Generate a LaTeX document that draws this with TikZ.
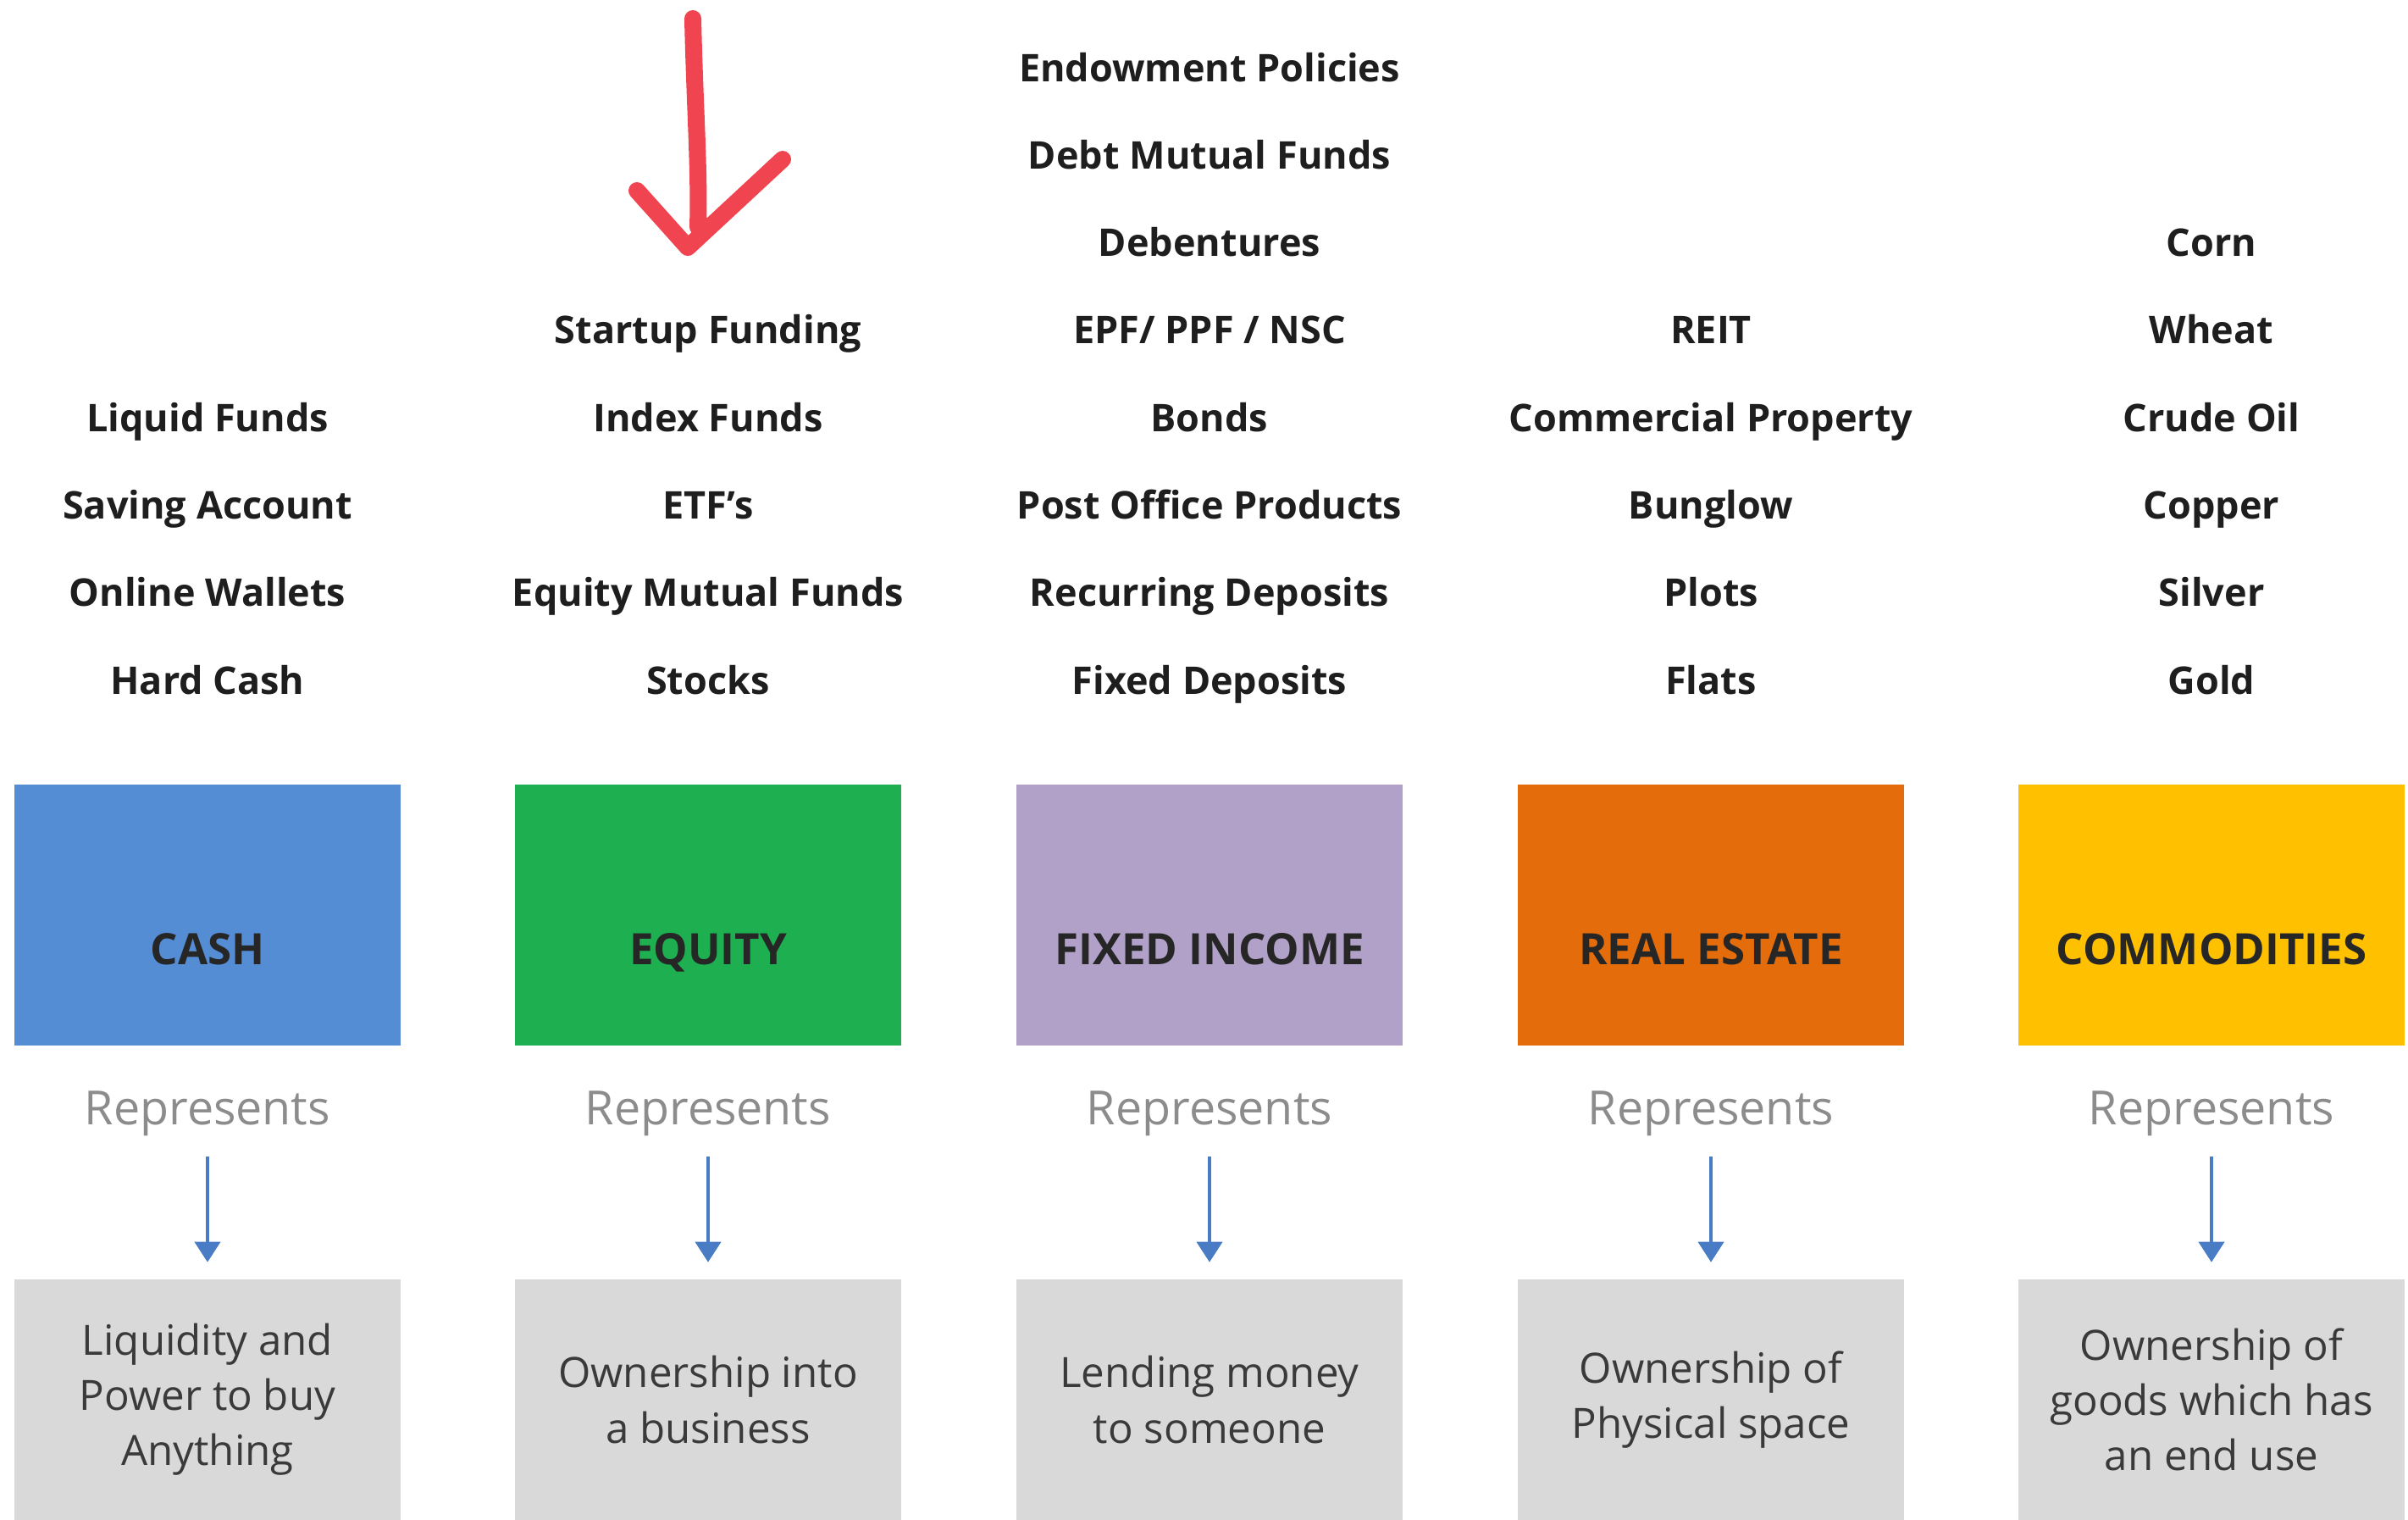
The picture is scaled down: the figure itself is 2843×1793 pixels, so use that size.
\documentclass[tikz,border=0pt]{standalone}
\usepackage{fontspec}
\setmainfont{Open Sans}
\usetikzlibrary{arrows.meta}
\definecolor{cashblue}{HTML}{548DD4}
\definecolor{equitygreen}{HTML}{1DAF50}
\definecolor{fixedlilac}{HTML}{B1A0C7}
\definecolor{estateorange}{HTML}{E46C0A}
\definecolor{commodyellow}{HTML}{FFC000}
\definecolor{descgray}{HTML}{D9D9D9}
\definecolor{reprgray}{HTML}{8C8C8C}
\definecolor{desctext}{HTML}{3A3A3A}
\definecolor{itemtext}{HTML}{1E1E1E}
\definecolor{flowblue}{HTML}{4A7CC6}
\definecolor{penred}{HTML}{F0303E}

\begin{document}
\begin{tikzpicture}[x=0.01cm, y=-0.01cm, >={Triangle[length=0.24cm, width=0.3cm]},
	item/.style={font=\bfseries\fontsize{12.8}{15}\selectfont, text=itemtext, inner sep=0pt, anchor=base},
	catbox/.style={minimum width=4.56cm, minimum height=3.07cm, inner sep=0pt},
	catname/.style={font=\bfseries\fontsize{14.5}{17}\selectfont, text=black!85, inner sep=0pt, anchor=base},
	repr/.style={font=\fontsize{15.8}{18}\selectfont, text=reprgray, inner sep=1pt, anchor=base},
	descbox/.style={fill=descgray, minimum width=4.56cm, minimum height=2.83cm, inner sep=0pt, align=center, font=\fontsize{14}{18.5}\selectfont, text=desctext},
	flow/.style={->, draw=flowblue, fill=flowblue, line width=1.1pt, shorten <=0.2cm, shorten >=0.2cm}]
	\useasboundingbox (0,0) rectangle (2843,1793);

	% hand drawn pointer
	\draw[penred, line width=0.2cm, line cap=round, line join=round, opacity=0.9]
		(818,22) .. controls (820,120) and (826,200) .. (824,268)
		(752,225) -- (812,292) -- (924,188);

	% cash
	\node[catbox, fill=cashblue] (cash) at (245,1080) {};
	\node[catname] (cash-n) at (245,1138) {CASH};
	\foreach \t [count=\k from 5] in {Liquid Funds, Saving Account, Online Wallets, Hard Cash}
		\node[item] (cash-\k) at (245,{96+103.3*(\k-1)}) {\t};
	\node[repr] (cash-r) at (245,1327) {Represents};
	\node[descbox] (cash-d) at (245,1652) {Liquidity and\\Power to buy\\Anything};
	\draw[flow] (cash-r) -- (cash-d);

	% equity
	\node[catbox, fill=equitygreen] (equity) at (836,1080) {};
	\node[catname] (equity-n) at (836,1138) {EQUITY};
	\foreach \t [count=\k from 4] in {Startup Funding, Index Funds, ETF's, Equity Mutual Funds, Stocks}
		\node[item] (equity-\k) at (836,{96+103.3*(\k-1)}) {\t};
	\node[repr] (equity-r) at (836,1327) {Represents};
	\node[descbox] (equity-d) at (836,1652) {Ownership into\\a business};
	\draw[flow] (equity-r) -- (equity-d);

	% fixed income
	\node[catbox, fill=fixedlilac] (fixed) at (1428,1080) {};
	\node[catname] (fixed-n) at (1428,1138) {FIXED INCOME};
	\foreach \t [count=\k] in {Endowment Policies, Debt Mutual Funds, Debentures, EPF/ PPF / NSC, Bonds, Post Office Products, Recurring Deposits, Fixed Deposits}
		\node[item] (fixed-\k) at (1428,{96+103.3*(\k-1)}) {\t};
	\node[repr] (fixed-r) at (1428,1327) {Represents};
	\node[descbox] (fixed-d) at (1428,1652) {Lending money\\to someone};
	\draw[flow] (fixed-r) -- (fixed-d);

	% real estate
	\node[catbox, fill=estateorange] (estate) at (2020,1080) {};
	\node[catname] (estate-n) at (2020,1138) {REAL ESTATE};
	\foreach \t [count=\k from 4] in {REIT, Commercial Property, Bunglow, Plots, Flats}
		\node[item] (estate-\k) at (2020,{96+103.3*(\k-1)}) {\t};
	\node[repr] (estate-r) at (2020,1327) {Represents};
	\node[descbox] (estate-d) at (2020,1652) {Ownership of\\Physical space};
	\draw[flow] (estate-r) -- (estate-d);

	% commodities
	\node[catbox, fill=commodyellow] (commod) at (2611,1080) {};
	\node[catname] (commod-n) at (2611,1138) {COMMODITIES};
	\foreach \t [count=\k from 3] in {Corn, Wheat, Crude Oil, Copper, Silver, Gold}
		\node[item] (commod-\k) at (2611,{96+103.3*(\k-1)}) {\t};
	\node[repr] (commod-r) at (2611,1327) {Represents};
	\node[descbox] (commod-d) at (2611,1652) {Ownership of\\goods which has\\an end use};
	\draw[flow] (commod-r) -- (commod-d);
\end{tikzpicture}
\end{document}
